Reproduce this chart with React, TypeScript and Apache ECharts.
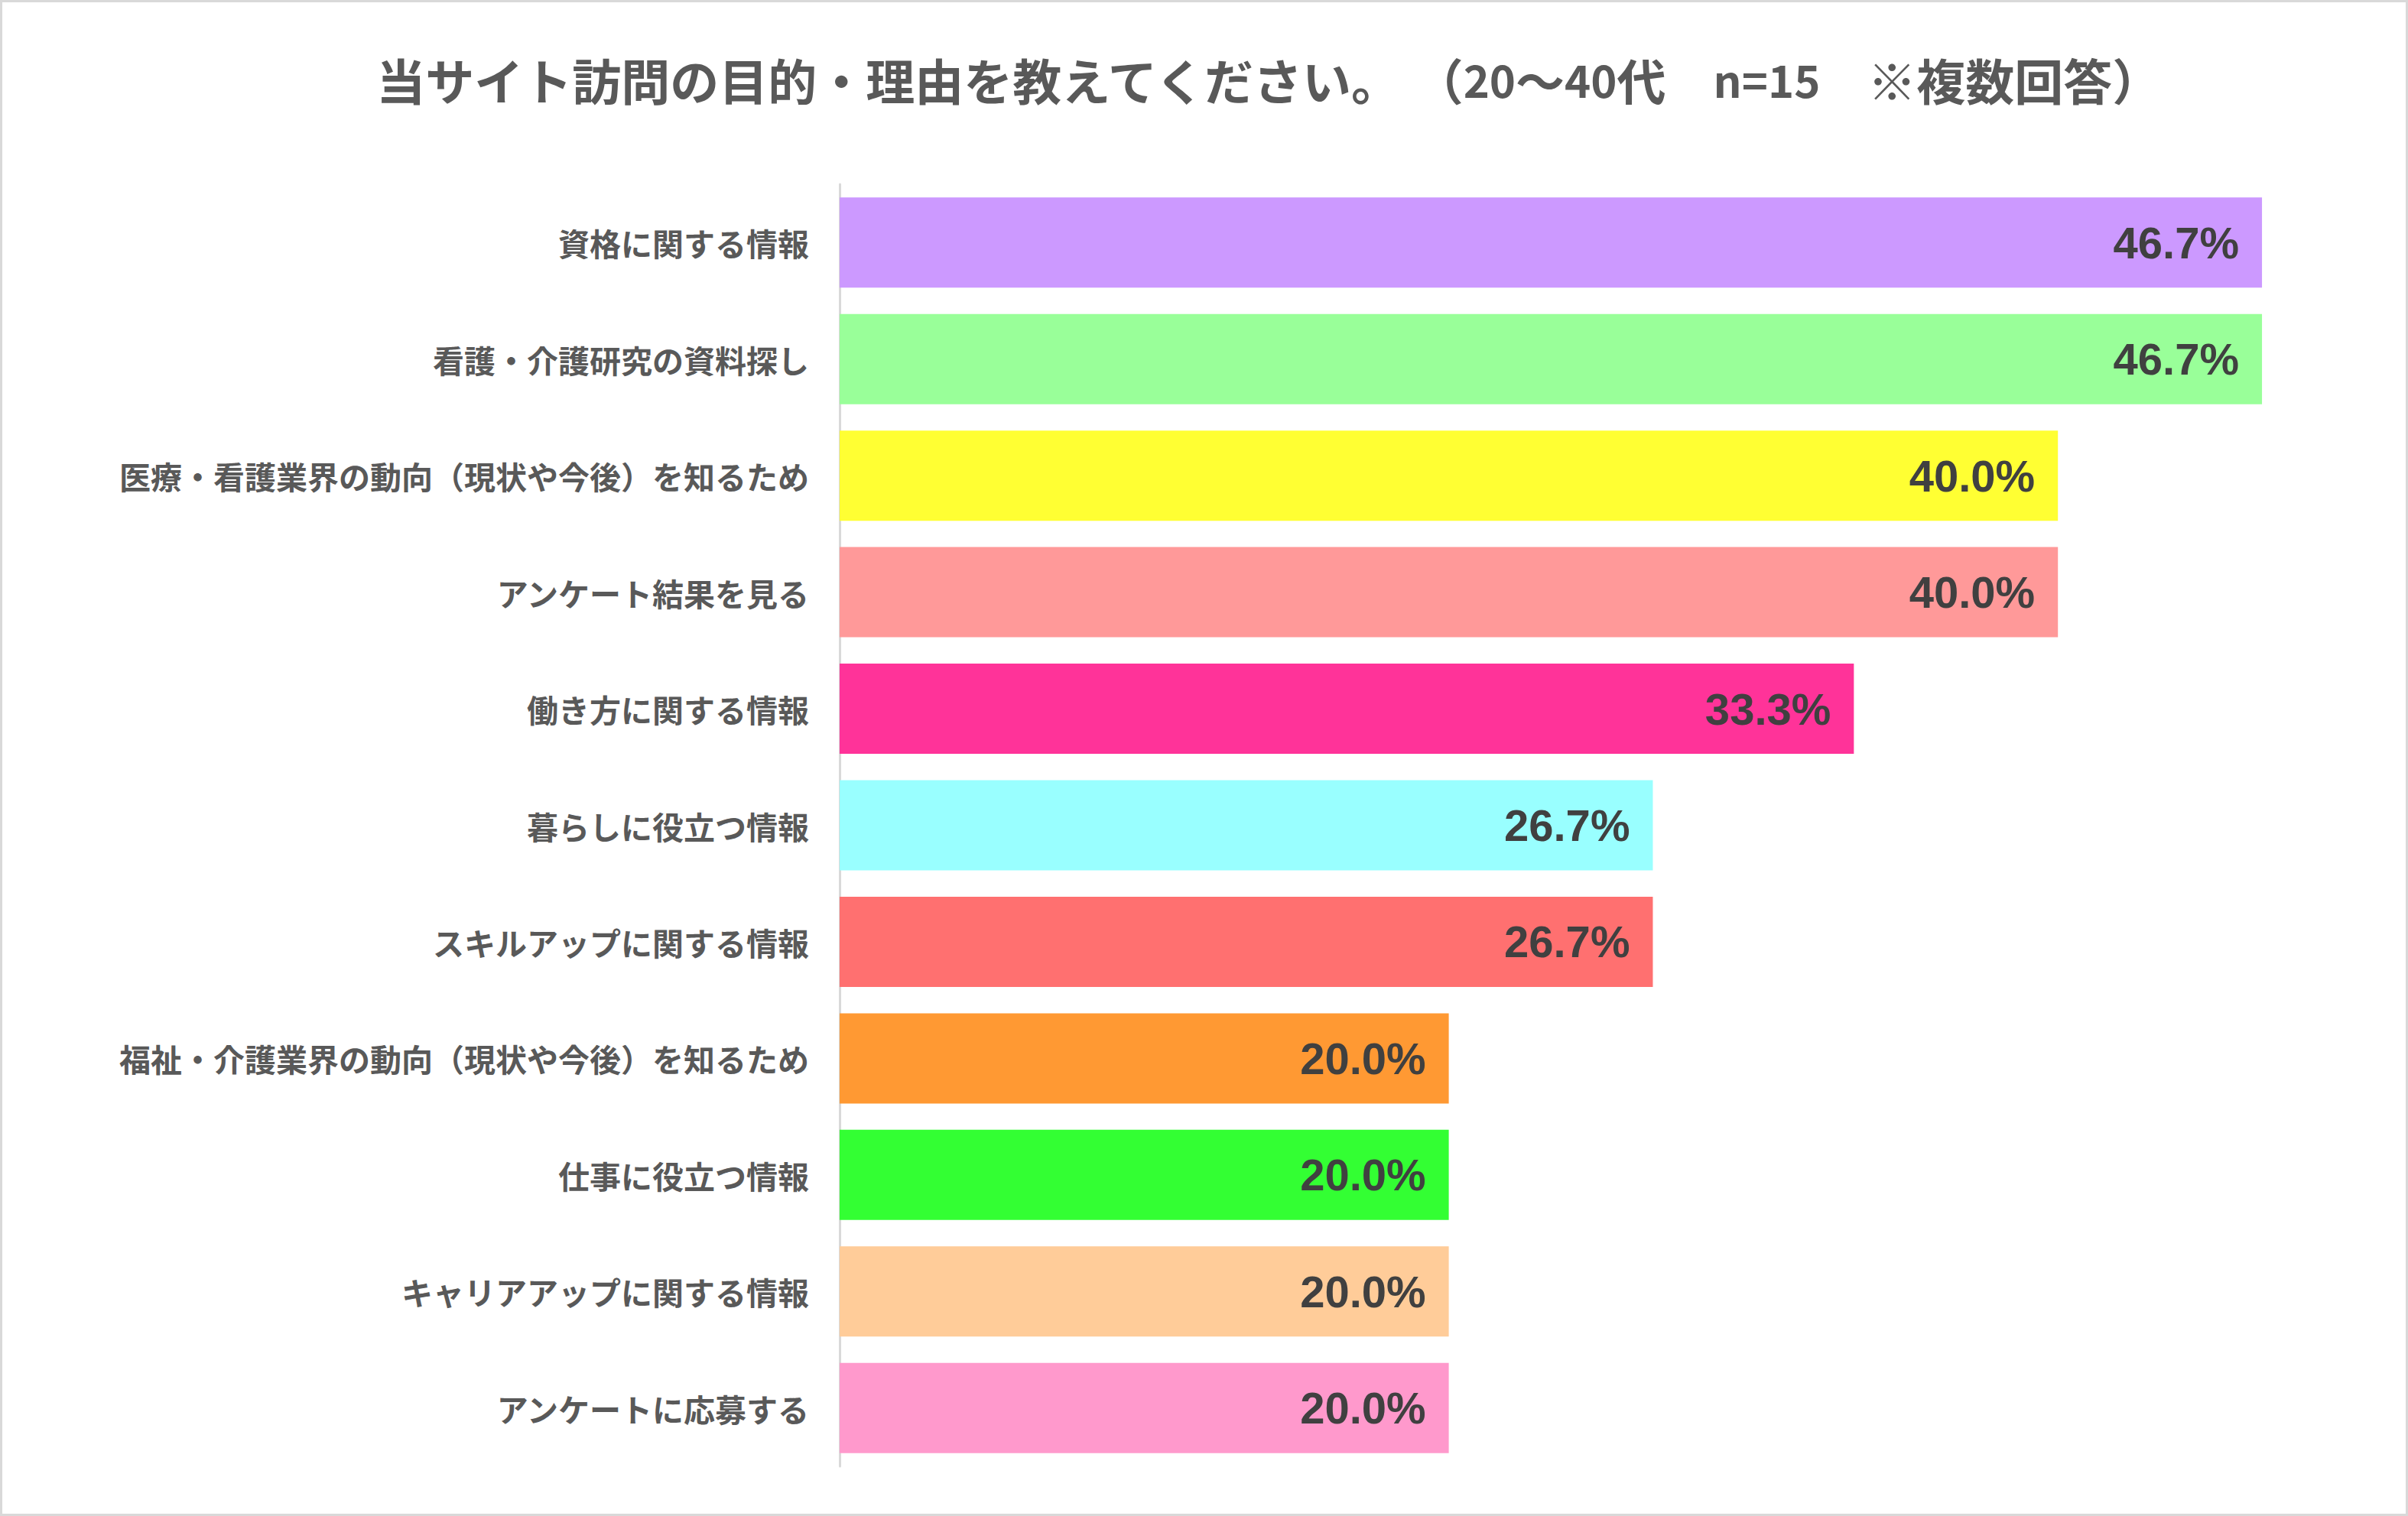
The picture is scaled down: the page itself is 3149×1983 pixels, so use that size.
import React, { useEffect, useRef } from "react";
import * as echarts from "echarts";

const TITLE_MAIN = "当サイト訪問の目的・理由を教えてください。";
const TITLE_AGE_FROM = "20";
const TITLE_AGE_TO = "40";
const TITLE_N = "n=15";
const TITLE_NOTE = "※複数回答";

const categories = [
  "資格に関する情報",
  "看護・介護研究の資料探し",
  "医療・看護業界の動向（現状や今後）を知るため",
  "アンケート結果を見る",
  "働き方に関する情報",
  "暮らしに役立つ情報",
  "スキルアップに関する情報",
  "福祉・介護業界の動向（現状や今後）を知るため",
  "仕事に役立つ情報",
  "キャリアアップに関する情報",
  "アンケートに応募する",
];

const values = [46.7, 46.7, 40.0, 40.0, 33.3, 26.7, 26.7, 20.0, 20.0, 20.0, 20.0];

const barColors = [
  "#CC99FF",
  "#99FF99",
  "#FFFF33",
  "#FF9999",
  "#FF3399",
  "#99FFFF",
  "#FF7070",
  "#FF9933",
  "#33FF33",
  "#FFCC99",
  "#FF99CC",
];

const W = 3149;
const H = 1983;

export default function App() {
  const ref = useRef<HTMLDivElement>(null);

  useEffect(() => {
    document.body.style.margin = "0";
    if (!ref.current) return;
    const chart = echarts.init(ref.current, null, { renderer: "svg" });
    const font = "'Noto Sans CJK JP', 'Noto Sans', sans-serif";
    const titleText =
      `{a|${TITLE_MAIN}}{s|　}{a|（}{n|${TITLE_AGE_FROM}}{a|〜}{n|${TITLE_AGE_TO}}{a|代}` +
      `{g|　}{n|${TITLE_N}}{g|　}{a|${TITLE_NOTE}）}`;
    chart.setOption({
      animation: false,
      backgroundColor: "#ffffff",
      title: {
        text: titleText,
        left: 1653,
        top: 98,
        textAlign: "center",
        textVerticalAlign: "middle",
        textStyle: {
          fontFamily: font,
          fontSize: 64,
          fontWeight: "bold",
          color: "#595959",
          rich: {
            a: { fontFamily: font, fontSize: 64, fontWeight: "bold", color: "#595959" },
            n: { fontFamily: font, fontSize: 58, fontWeight: "bold", color: "#595959" },
            s: { fontFamily: font, fontSize: 16, fontWeight: "bold", color: "#595959" },
            g: { fontFamily: font, fontSize: 62, fontWeight: "bold", color: "#595959" },
          },
        },
      },
      graphic: [
        {
          type: "rect",
          shape: { x: 1.5, y: 1.5, width: W - 3, height: H - 3 },
          style: { fill: "none", stroke: "#d9d9d9", lineWidth: 3 },
          silent: true,
        },
      ],
      grid: {
        left: 1098,
        right: W - (1098 + 1991.5),
        top: 241,
        bottom: H - 1918,
        containLabel: false,
      },
      xAxis: {
        type: "value",
        min: 0,
        max: 50,
        show: false,
        splitLine: { show: false },
      },
      yAxis: {
        type: "category",
        inverse: true,
        data: categories,
        axisTick: { show: false },
        axisLine: { show: true, lineStyle: { color: "#d9d9d9", width: 3 } },
        axisLabel: {
          margin: 40,
          fontFamily: font,
          fontSize: 41,
          fontWeight: "bold",
          color: "#595959",
          padding: [0, 0, 8, 0],
        },
      },
      series: [
        {
          type: "bar",
          data: values.map((v, i) => ({ value: v, itemStyle: { color: barColors[i] } })),
          barCategoryGap: "22.6%",
          label: {
            show: true,
            position: "insideRight",
            distance: 30,
            formatter: (p: any) => p.value.toFixed(1) + "%",
            fontFamily: "'Liberation Sans', Arial, sans-serif",
            fontSize: 58,
            fontWeight: "bold",
            color: "#404040",
          },
        },
      ],
    });
    return () => chart.dispose();
  }, []);

  return (
    <div
      ref={ref}
      style={{ position: "absolute", left: 0, top: 0, width: W, height: H }}
    />
  );
}
